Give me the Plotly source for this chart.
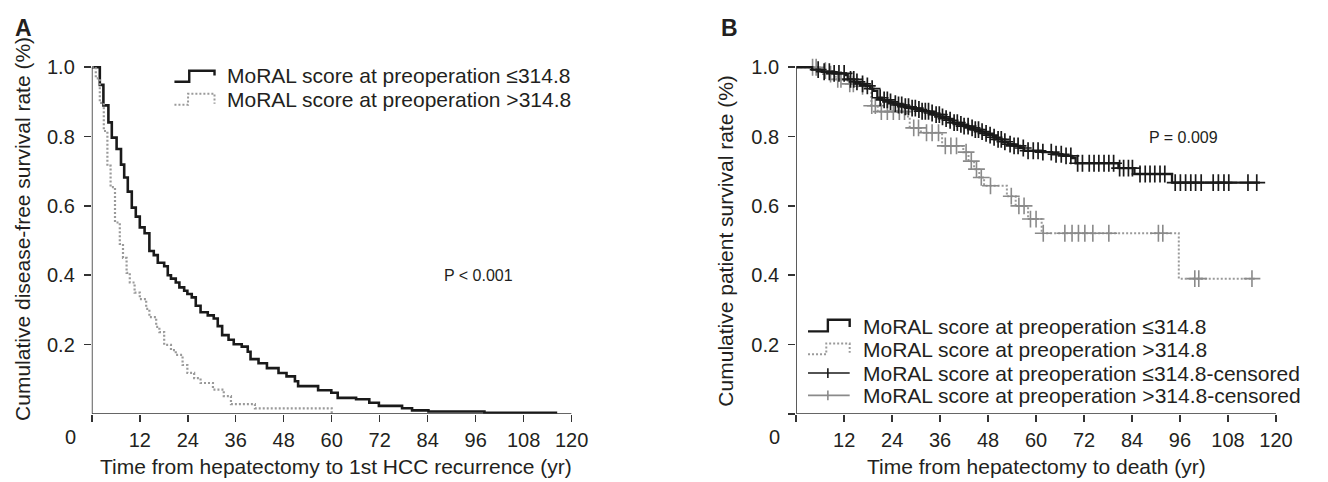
import bisect
import plotly.graph_objects as go

W, H = 1328, 482

# ---------------- data ----------------
# Panel A: disease-free survival (months, survival proportion)
a_low_t = [0, 2.0, 2.9, 4.15, 5.0, 6.2, 7.3, 8.1, 9.0, 10.0, 11.0, 12.0, 13.2, 14.4, 15.5, 16.5,
           18.1, 19.0, 19.8, 21.0, 21.9, 23.1, 23.9, 25.0, 26.0, 27.2, 29.0, 30.5, 31.5, 32.6, 34.2,
           35.5, 37.5, 39.0, 39.7, 41.7, 43.8, 46.7, 48.7, 50.8, 51.6, 56.6, 59.9, 61.5, 66.1, 69.4,
           71.8, 77.6, 80.1, 84.2, 98.2, 116.4]
a_low_s = [1.0, 0.949, 0.890, 0.841, 0.797, 0.764, 0.719, 0.682, 0.641, 0.595, 0.569, 0.538, 0.521,
           0.470, 0.458, 0.436, 0.426, 0.400, 0.390, 0.379, 0.365, 0.355, 0.346, 0.336, 0.312, 0.293,
           0.284, 0.275, 0.253, 0.227, 0.214, 0.201, 0.194, 0.179, 0.158, 0.146, 0.132, 0.118, 0.108,
           0.094, 0.080, 0.068, 0.061, 0.046, 0.042, 0.032, 0.023, 0.016, 0.010, 0.007, 0.003, 0.003]
a_high_t = [0, 1.0, 2.0, 3.0, 3.9, 4.7, 5.8, 7.0, 7.8, 8.7, 9.5, 10.7, 12.0, 13.6, 14.4, 16.1, 16.9,
            18.1, 19.8, 21.0, 22.7, 23.9, 25.6, 27.2, 30.3, 33.0, 34.8, 40.8, 60.0]
a_high_s = [1.0, 0.968, 0.897, 0.816, 0.716, 0.654, 0.552, 0.490, 0.450, 0.407, 0.379, 0.350, 0.331,
            0.303, 0.279, 0.251, 0.236, 0.199, 0.184, 0.170, 0.141, 0.118, 0.103, 0.089, 0.070, 0.051,
            0.028, 0.016, 0.0]

# Panel B: patient survival
b_low_t = [0, 4.0, 6.4, 9.5, 12.4, 12.9, 14.5, 16.0, 17.4, 18.5, 19.3, 20.3, 21.5, 23.0, 24.3, 25.5,
           27.0, 28.5, 30.0, 31.5, 33.2, 34.5, 36.0, 37.2, 38.2, 39.2, 40.5, 41.8, 43.1, 44.5, 46.0,
           47.2, 48.1, 49.2, 50.1, 51.5, 53.0, 54.5, 56.0, 57.0, 61.5, 64.0, 66.5, 68.9, 69.9, 80.6,
           84.6, 94.0, 116.0]
b_low_s = [1.0, 0.993, 0.987, 0.982, 0.977, 0.965, 0.958, 0.952, 0.946, 0.938, 0.932, 0.912, 0.906,
           0.900, 0.895, 0.891, 0.886, 0.882, 0.878, 0.873, 0.868, 0.863, 0.857, 0.852, 0.847, 0.840,
           0.835, 0.830, 0.825, 0.820, 0.814, 0.809, 0.804, 0.798, 0.792, 0.785, 0.778, 0.773, 0.767,
           0.759, 0.755, 0.749, 0.744, 0.738, 0.723, 0.709, 0.692, 0.667, 0.667]
b_low_cens = [5.5, 7.0, 8.3, 9.5, 10.7, 12.0, 13.6, 14.4, 15.2, 16.6, 17.8, 19.0, 21.0, 22.0, 22.8,
              23.6, 24.8, 25.6, 26.4, 27.3, 28.1, 29.0, 29.8, 30.7, 31.5, 32.3, 33.1, 34.0, 35.0, 35.8,
              36.6, 37.5, 38.5, 39.5, 40.3, 41.2, 42.0, 43.0, 44.0, 44.8, 45.6, 46.5, 47.5, 48.5, 49.5,
              50.5, 51.3, 52.2, 53.5, 54.5, 55.5, 56.8, 58.0, 59.3, 60.5, 61.7, 63.8, 65.0, 66.3, 67.5,
              68.7, 70.4, 71.6, 73.3, 74.5, 75.7, 77.0, 78.2, 79.4, 80.9, 81.9, 83.1, 84.1, 86.0, 87.3,
              88.5, 89.7, 91.0, 92.2, 94.8, 96.1, 97.4, 98.7, 99.9, 101.3, 104.3, 105.6, 107.0, 108.2,
              113.0, 115.2]
b_high_t = [0, 5.9, 8.0, 9.9, 12.9, 15.5, 17.3, 18.8, 20.4, 27.7, 28.4, 31.2, 36.5, 41.8, 43.1, 44.5,
            45.8, 47.0, 52.7, 54.9, 58.0, 61.4, 95.7, 115.0]
b_high_s = [1.0, 0.990, 0.980, 0.965, 0.952, 0.945, 0.937, 0.889, 0.872, 0.858, 0.825, 0.811, 0.773,
            0.755, 0.729, 0.706, 0.682, 0.658, 0.628, 0.600, 0.562, 0.521, 0.390, 0.390]
b_high_cens = [4.1, 5.0, 7.3, 8.6, 10.4, 11.2, 13.4, 14.3, 16.6, 18.9, 19.8, 21.3, 22.8, 24.3, 25.8,
               27.1, 29.4, 30.6, 32.6, 34.0, 35.6, 37.3, 38.7, 40.1, 42.5, 43.8, 45.1, 46.3, 48.6,
               53.8, 55.7, 57.0, 58.6, 60.0, 61.8, 67.2, 69.0, 70.6, 72.2, 74.2, 78.2, 90.6, 91.7,
               99.7, 100.7, 114.0]

x_ticks = [0, 12, 24, 36, 48, 60, 72, 84, 96, 108, 120]
x_ticktext = ["", "12", "24", "36", "48", "60", "72", "84", "96", "108", "120"]

lab_low = "MoRAL score at preoperation \u2264314.8"
lab_high = "MoRAL score at preoperation >314.8"

# ---------------- styling / geometry ----------------
FONT = "Liberation Sans, Arial, Helvetica, sans-serif"
TXT = "#231f20"
AX = "#333333"
BLACK = "#1a1a1a"
GRAY = "#9a9a9a"
GRAYM = "#8a8a8a"

PXM = 4.05           # pixels per month
PXU = 351.0          # pixels per unit survival
Y0 = 413.0           # pixel row of survival 0
XA0, XB0 = 93.0, 806.5
YTOP = 1.015


def px(x):
    return x / W


def py(y):
    return 1 - y / H


def step_at(ts, ss, t):
    i = bisect.bisect_right(ts, t) - 1
    return ss[max(i, 0)]


fig = go.Figure()

# Panel A curves
fig.add_trace(go.Scatter(x=a_low_t, y=a_low_s, mode="lines", line=dict(color=BLACK, width=2.6, shape="hv"),
                         xaxis="x", yaxis="y", showlegend=False, hoverinfo="skip"))
fig.add_trace(go.Scatter(x=a_high_t, y=a_high_s, mode="lines",
                         line=dict(color=GRAY, width=2.2, shape="hv", dash="2px,2px"),
                         xaxis="x", yaxis="y", showlegend=False, hoverinfo="skip"))

# Panel B curves
fig.add_trace(go.Scatter(x=b_high_t, y=b_high_s, mode="lines",
                         line=dict(color=GRAY, width=2.0, shape="hv", dash="2px,2px"),
                         xaxis="x2", yaxis="y2", showlegend=False, hoverinfo="skip"))
fig.add_trace(go.Scatter(x=b_high_cens, y=[step_at(b_high_t, b_high_s, t) for t in b_high_cens],
                         mode="markers", marker=dict(symbol="cross-thin", size=12, color=GRAYM,
                                                     line=dict(color=GRAYM, width=1.6)),
                         xaxis="x2", yaxis="y2", showlegend=False, hoverinfo="skip", cliponaxis=False))
fig.add_trace(go.Scatter(x=b_low_t, y=b_low_s, mode="lines", line=dict(color=BLACK, width=2.3, shape="hv"),
                         xaxis="x2", yaxis="y2", showlegend=False, hoverinfo="skip"))
fig.add_trace(go.Scatter(x=b_low_cens, y=[step_at(b_low_t, b_low_s, t) for t in b_low_cens],
                         mode="markers", marker=dict(symbol="cross-thin", size=12, color=BLACK,
                                                     line=dict(color=BLACK, width=1.7)),
                         xaxis="x2", yaxis="y2", showlegend=False, hoverinfo="skip", cliponaxis=False))

ydom = [py(Y0), py(Y0 - YTOP * PXU)]
common_x = dict(range=[0, 120], tickvals=x_ticks, ticktext=x_ticktext, ticks="outside", ticklen=7,
                tickwidth=1.5, tickcolor=AX, showline=False, showgrid=False, zeroline=False,
                tickfont=dict(family=FONT, size=20, color=TXT), ticklabelstandoff=1)
common_y = dict(range=[0, YTOP], ticks="outside", ticklen=7, tickwidth=1.5, tickcolor=AX,
                showline=False, showgrid=False, zeroline=False,
                tickfont=dict(family=FONT, size=20, color=TXT), ticklabelstandoff=5)

fig.update_layout(
    width=W, height=H, margin=dict(l=0, r=0, t=0, b=0),
    paper_bgcolor="white", plot_bgcolor="white", showlegend=False,
    xaxis=dict(domain=[px(XA0), px(XA0 + 120 * PXM)], anchor="y", **common_x),
    xaxis2=dict(domain=[px(XB0), px(XB0 + 120 * PXM)], anchor="y2", **common_x),
    yaxis=dict(domain=ydom, anchor="x", tickvals=[0.2, 0.4, 0.6, 0.8, 1.0],
               ticktext=["0.2", "0.4", "0.6", "0.8", "1.0"], **common_y),
    yaxis2=dict(domain=ydom, anchor="x2", tickvals=[0, 0.2, 0.4, 0.6, 0.8, 1.0],
                ticktext=["", "0.2", "0.4", "0.6", "0.8", "1.0"], **common_y),
)

shapes = []
# axis lines
for xr, yr in (("x", "y"), ("x2", "y2")):
    shapes.append(dict(type="line", xref=xr, yref=yr, x0=0, x1=120, y0=0, y1=0,
                       line=dict(color=AX, width=1.6)))
    shapes.append(dict(type="line", xref=xr, yref=yr, x0=0, x1=0, y0=0, y1=1.0,
                       line=dict(color=AX, width=1.6)))


def km_icon(x0, xm, x1, ylow, ytop, yend, color, dash, width):
    path = (f"M {px(x0)},{py(ylow)} L {px(xm)},{py(ylow)} L {px(xm)},{py(ytop)} "
            f"L {px(x1)},{py(ytop)} L {px(x1)},{py(yend)}")
    return dict(type="path", xref="paper", yref="paper", path=path,
                line=dict(color=color, width=width, dash=dash))


def cens_icon(x0, xm, x1, y, color, width):
    out = [dict(type="line", xref="paper", yref="paper", x0=px(x0), x1=px(x1), y0=py(y), y1=py(y),
                line=dict(color=color, width=width))]
    out.append(dict(type="line", xref="paper", yref="paper", x0=px(xm), x1=px(xm), y0=py(y - 5),
                    y1=py(y + 5), line=dict(color=color, width=width)))
    return out


# legend A
shapes.append(km_icon(176.7, 191.7, 217.3, 76.7, 65.5, 70.5, BLACK, "solid", 2.4))
shapes.append(km_icon(176.7, 190.5, 217.3, 100.0, 88.8, 99.0, GRAY, "2px,2px", 2.0))
# legend B
shapes.append(km_icon(818.5, 838.6, 860.7, 329.5, 317.7, 325.0, BLACK, "solid", 2.4))
shapes.append(km_icon(818.5, 837.0, 860.7, 352.7, 341.7, 351.0, GRAY, "2px,2px", 2.0))
shapes += cens_icon(818.5, 838.6, 860.7, 371.7, BLACK, 1.6)
shapes += cens_icon(818.5, 838.6, 860.7, 394.3, GRAYM, 1.6)
fig.update_layout(shapes=shapes)

ann = []


def text(x, y, s, size=21, xanchor="left", bold=False, angle=0):
    ann.append(dict(x=px(x), y=py(y), xref="paper", yref="paper", text=f"<b>{s}</b>" if bold else s,
                    showarrow=False, xanchor=xanchor, yanchor="middle", textangle=angle,
                    font=dict(family=FONT, size=size, color=TXT)))


text(13, 22, "A", size=23, bold=True)
text(728, 22, "B", size=23, bold=True)
# origin labels
text(71, 436, "0", size=20, xanchor="center")
text(784.5, 436, "0", size=20, xanchor="center")
# axis titles
text(340, 466, "Time from hepatectomy to 1st HCC recurrence (yr)", size=21, xanchor="center")
text(1050, 466, "Time from hepatectomy to death (yr)", size=21, xanchor="center")
text(22, 226, "Cumulative disease-free survival rate (%)", size=21, xanchor="center", angle=-90)
text(734, 238, "Cumulative patient survival rate (%)", size=21, xanchor="center", angle=-90)
# p-values
text(448, 273, "P < 0.001", size=16)
text(1162, 133, "P = 0.009", size=16)
# legend texts
text(228, 70, lab_low, size=21)
text(228, 94.5, lab_high, size=21)
text(872, 325, lab_low, size=21)
text(872, 348.3, lab_high, size=21)
text(872, 371.7, lab_low + "-censored", size=21)
text(872, 394.3, lab_high + "-censored", size=21)
fig.update_layout(annotations=ann)

fig.write_html("out.html", config={"displayModeBar": False, "staticPlot": True},
               post_script="document.body.style.margin='0px';document.body.style.overflow='hidden';")
